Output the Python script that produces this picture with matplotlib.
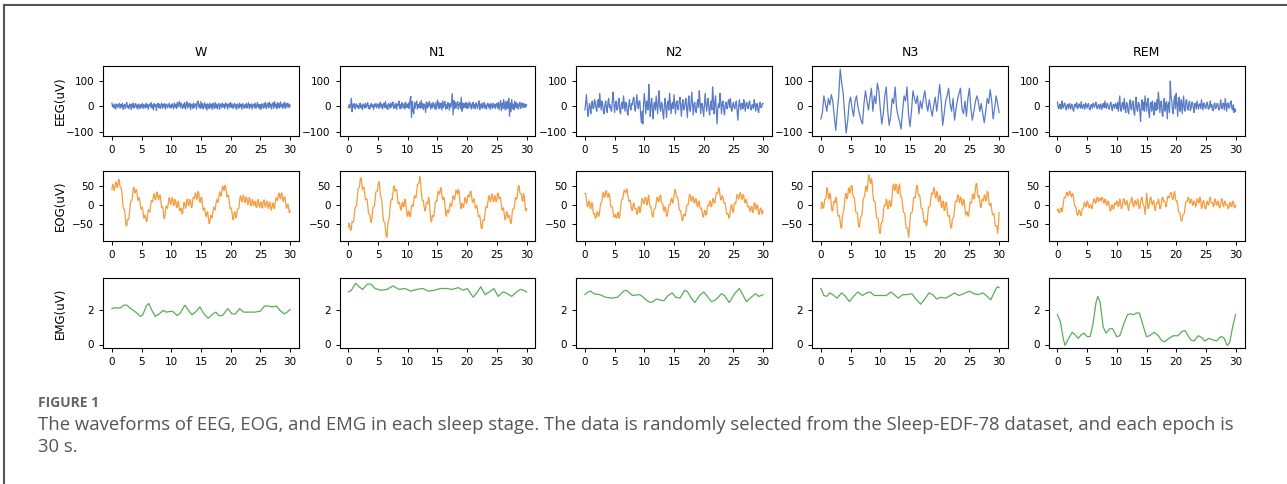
import numpy as np
import matplotlib.pyplot as plt
from matplotlib.lines import Line2D

stages = ['W', 'N1', 'N2', 'N3', 'REM']
channels = ['EEG(uV)', 'EOG(uV)', 'EMG(uV)']

# EEG, one value every 0.125 s (N3 every 0.25 s)
eeg_w = [12, -3, 5, -8, 9, -12, 4, 8, -6, 2, 11, -9, 6, -4, 10, -14, 3, 7, -10, 5, 14, -6, 2, -11, 8, 4, -13, 9, -5, 12, -8, 3, 10, -7, 5, -12, 8, 1, -9, 6,
         -4, 11, -10, 6, 3, -8, 12, -5, 7, -13, 4, 9, -3, 14, -8, 5, -15, 10, -2, 7, -18, 4, 11, -6, 8, -10, 3, 12, -9, 6, -4, 10, -12, 5, 8, -7, 2, 11, -6, 4,
         -8, 9, 2, -11, 13, -4, 7, -9, 15, -3, 10, 18, -6, 12, 2, -10, 8, -5, 14, -12, 6, 17, -8, 9, -3, 11, -14, 5, 8, -10, 12, -6, 4, 9, -12, 15, 20, -4, 8, -9,
         18, -6, 10, -12, 4, 13, -8, 6, -16, 9, 2, -10, 12, -5, 7, -14, 11, 3, -9, 15, -6, 8, -11, 5, 10, -13, 4, 9, -7, 12, -4, 6, -10, 13, -2, 8, -12, 5, 10, -6,
         14, -5, 8, -10, 3, 11, -7, 6, -13, 9, 4, -8, 12, -3, 7, -12, 10, 2, -9, 6, -5, 11, -8, 4, 13, -10, 6, -4, 9, -12, 5, 8, -6, 12, -9, 3, 14, -5, 7, -11,
         6, -13, 9, 2, -8, 12, -5, 15, -10, 4, 11, -7, 16, -4, 9, -12, 6, 13, -9, 18, -3, 8, -11, 14, -6, 10, -8, 17, -2, 7, -10, 12, -5, 15, -9, 6, 11, -4, 9, -6, 5]
eeg_n1 = [-5, 6, -8, 3, 30, -22, 8, -4, 10, -12, 5, 9, -6, 2, -10, 8, 12, -7, 4, -14, 9, 3, -8, 11, -5, 6, 14, -9, 2, -12, 7, 10, -4, 5, -13, 8, -2, 11, -7, 4,
          9, -10, 6, 15, -5, 8, -12, 3, 12, -6, 18, -8, 4, -14, 10, 6, -9, 13, -4, 7, 16, -10, 5, -6, 12, -13, 8, 3, 20, -9, 6, -11, 14, 2, -7, 10, -12, 16, -5, 8,
          -6, 12, -10, 25, 38, -45, 18, -20, -30, 15, -8, 10, 20, -12, 6, -5, 14, -9, 22, -6, 10, -14, 8, 4, -25, 16, -8, 12, -4, 18, 6, -12, 10, -7, 15, 3, -10, 12, -14, 8,
          24, -8, 15, -10, 6, 12, -15, 20, -6, 9, 18, -12, 5, -9, 14, 8, -16, 10, -4, 12, 48, -35, 22, -10, 15, -8, 10, 18, -12, 6, 14, -10, 35, -20, 12, -8, 10, -6, 15, -9,
          12, -10, 8, 16, -6, 10, -12, 4, 15, -8, 6, -11, 13, 3, -9, 10, 20, -14, 8, -5, 12, -10, 6, 14, -8, 4, -12, 9, 11, -6, 7, -13, 10, 2, -9, 12, -4, 8, -10, 6,
          10, -8, 15, -14, 6, 22, -18, 12, -10, 25, 8, -15, 18, -12, 20, -8, 30, -40, 12, -22, 26, -10, 8, -14, 20, -6, 14, -8, 10, -12, 6, 15, -9, 4, 12, -7, 10, -5, 8, -4, 6]
eeg_n2 = [-15, 10, 45, 5, -40, -20, 10, -5, -30, 10, 20, -10, -5, 25, 15, -10, -20, 15, 25, -5, 50, 10, -15, 20, 10, -25, -30, 5, 20, -10, -25, 15, 30, -5, 5, -15, -20, 25, 55, 10,
          -25, 5, 20, -15, -10, 15, 30, -20, -30, 5, 15, -10, 40, 10, -20, 15, 10, -25, -35, 5, 25, -5, -15, 10, 5, 30, 35, -10, -20, 15, 45, 5, -10, 20, 20, -30, -65, -20, -70, 10,
          50, 15, -30, 10, 20, -15, 85, 30, -40, 5, 30, -20, -50, 10, 15, -15, 40, 5, -30, 20, 60, -5, -20, 15, 10, -30, -50, 5, 30, -10, -45, 10, 20, -15, 50, 15, -30, 5, 15, -10,
          45, 5, -30, 10, 20, -10, -15, 20, 35, -5, -40, 10, 25, -15, -10, 15, 30, -5, -45, 10, 40, -10, -20, 15, 55, 5, -35, 10, 15, -20, -25, 10, 25, -5, 60, 20, -30, 10, 10, -15,
          -40, 10, 50, 5, -20, 15, 30, -10, -35, 5, 20, -15, 75, 30, -30, 10, 40, -20, -70, -10, 10, -5, 50, 15, -30, 10, 20, -15, -35, 5, 15, -10, -10, 20, 25, -5, 30, -10, -20, 5,
          15, -5, -10, 10, 20, -15, -55, -10, 25, 5, -15, 10, 10, -10, 25, 5, -20, 10, 15, -5, -10, 15, 20, -10, -15, 5, 5, -10, 25, 10, -20, 5, 10, -15, -25, 5, 15, -5, -5, 10, 10]
eeg_n3 = [-50, -25, 40, 10, -20, 30, 5, 45, 20, -40, -95, -20, 40, 145, 90, 50, -30, -105, -60, 10,
          35, -10, -40, 20, 40, -5, -30, -55, -70, 10, 60, 20, -15, 30, 70, -20, 40, 10, 90, 60,
          -10, -70, -30, 40, 75, -20, -75, -40, 30, 10, 75, -10, -40, -60, -90, -20, 40, 20, 75, -30,
          -80, -20, 60, 30, 10, 40, -30, 20, -10, 30, 60, 10, -20, 25, -10, -40, 5, 35, -20, 30,
          85, 20, -75, -30, 20, 40, 70, 10, -20, 30, -55, -10, 25, 50, 70, -10, -30, 20, -40, 30,
          70, -10, -55, -20, 15, 40, 20, -20, 10, -30, -65, -20, 30, 10, 65, 20, -50, -10, 40, 10, -25]
eeg_rem = [15, -5, -10, 8, 5, -12, 20, 3, -8, 10, 12, -6, -15, 4, 6, -10, 10, 2, -12, 8, 4, -15, -20, 6, 8, -4, 14, -10, -6, 9, 3, -8, 18, -5, -10, 7, 5, -12, 12, 4,
           -8, 6, 10, -12, -15, 4, 6, -9, 12, 3, -5, 10, 15, -8, -10, 6, 4, -12, 8, 2, -14, 9, 10, -6, 20, -4, -8, 11, 5, -10, -12, 8, 15, -5, -18, 6, 6, -9, 10, 3,
           -10, 15, -20, 12, 40, -15, -20, 10, 15, -12, 30, -8, -25, 14, 10, -20, -30, 12, 25, -10, -15, 18, 20, -25, -35, 10, 35, -12, -20, 15, 10, -18, -60, 5, 25, -15, 15, -20, 40, 10,
           -20, 15, 30, -25, -45, 10, 15, -20, 20, -10, -35, 15, 10, -18, 25, -12, 55, 20, -25, 12, 20, -30, -40, 15, 30, -20, 10, 18, -50, 5, 15, -25, 98, 40, 20, -15, -30, 20, 40, -10,
           50, 10, -40, 15, 35, -20, 10, 25, -30, 5, 40, -15, -20, 20, 25, -10, -15, 12, 20, -18, -10, 15, 15, -8, -25, 10, 10, -12, 20, 5, -12, 8, 8, -10, 25, 6, -15, 12, 10, -8,
           -8, 12, 15, -10, -12, 6, 20, -5, 5, -15, -18, 8, 12, -10, -6, 10, 10, -12, -15, 6, 25, -8, -10, 12, 8, -15, 30, 5, -20, 10, 12, -8, -5, 15, 20, -10, -15, 5, -25, -10, -20]

# EOG, one value every 0.125 s
eog_w = [40, 54, 50, 38, 45, 60, 58, 46, 52, 67, 65, 46, 45, 41, 20, -4, -10, -13, -35, -54, -55, -38, -40, -36, -15, 7, 10, 11, 30, 46, 45, 31, 35, 40, 28, 12, 15, 19, 5, -11,
         -10, -6, -20, -35, -32, -27, -40, -44, -30, -13, -15, -19, -5, 11, 10, 8, 25, 29, 15, 13, 30, 34, 20, 13, 25, 26, 10, -7, -5, -11, -35, -36, -20, -3, -5, -9, 5, 19, 15, 1,
         5, 19, 15, -2, 0, 14, 10, -7, -5, 9, 5, -14, -15, -8, -20, -24, -10, 7, 5, -9, -5, 14, 15, -2, 0, 14, 10, -7, -5, 16, 20, 16, 30, 31, 15, 16, 35, 31, 10, 6,
         20, 19, 0, -14, -10, -8, -25, -31, -20, -18, -35, -49, -45, -28, -30, -34, -20, -6, -10, -14, 0, 14, 10, 6, 20, 34, 30, 23, 35, 49, 45, 38, 50, 51, 35, 21, 25, 26, 10, -9,
         -10, -8, -25, -39, -35, -18, -20, -34, -30, -11, -10, -9, 10, 24, 20, 8, 15, 26, 20, 6, 10, 21, 15, 1, 5, 19, 15, -2, 0, 14, 10, -2, 5, 9, -5, -7, 10, 14, 0, -7,
         5, 8, -8, -8, 10, 13, -2, -6, 8, 10, -5, -9, 5, 7, -10, -14, 0, 5, -8, -10, 5, 19, 15, 11, 25, 31, 20, 16, 30, 31, 15, 8, 20, 21, 5, -9, -5, 2, -10, -21, -15]
eog_n1 = [-60, -48, -55, -67, -62, -44, -45, -44, -25, -6, -5, -2, 20, 41, 45, 48, 70, 71, 55, 41, 45, 46, 30, 13, 15, 16, 0, -21, -25, -26, -45, -46, -30, -8, -5, -4, 15, 34, 35, 36,
          55, 61, 50, 26, 20, 11, -15, -39, -45, -46, -65, -84, -85, -53, -40, -34, -10, 11, 15, 13, 30, 49, 50, 36, 40, 39, 20, 3, 5, 7, -10, -14, 0, 7, -5, -4, 15, 11, -10, -29,
          -30, -16, -20, -31, -25, -3, 0, -4, 10, 24, 20, 18, 35, 54, 55, 56, 75, 66, 40, 16, 10, 11, -5, -16, -10, 7, 5, 3, 20, 9, -20, -41, -45, -28, -30, -31, -15, 7, 10, 8,
          25, 36, 30, 28, 45, 44, 25, 13, 20, 19, 0, -24, -30, -13, -15, -21, -10, 4, 0, -4, 10, 24, 20, 13, 25, 39, 35, 28, 40, 36, 15, -7, -10, 4, 0, -7, 5, 19, 15, 3,
          10, 26, 25, 21, 35, 36, 20, 6, 10, 16, 5, -9, -5, -1, -15, -31, -30, -28, -45, -62, -62, -42, -40, -41, -25, -6, -5, -7, 10, 24, 20, 8, 15, 29, 25, 8, 10, 24, 20, 8,
          15, 31, 30, 16, 20, 19, 0, -14, -10, -8, -25, -39, -35, -18, -20, -34, -30, -28, -45, -49, -35, -13, -10, -11, 5, 19, 15, 16, 35, 51, 50, 31, 30, 29, 10, 11, 30, 21, -5, -16, -10]
eog_n2 = [30, 29, 15, -2, -5, 9, 10, -7, -10, 5, 5, -17, -25, -23, -35, -34, -20, -18, -30, -29, -15, 2, 5, 10, 30, 32, 20, 20, 35, 37, 25, 20, 30, 27, 10, -5, -5, -5, -20, -32,
          -30, -25, -35, -34, -20, -20, -35, -29, -10, 9, 15, 15, 30, 39, 35, 31, 42, 40, 25, 10, 10, 12, 0, -14, -15, 2, 5, -9, -10, -10, -25, -22, -5, -5, -20, -14, 5, 17, 15, 3,
          5, 19, 20, 3, 0, 19, 25, 3, -5, -5, -20, -32, -30, -13, -10, -9, 5, 19, 20, 8, 10, 24, 25, 8, 5, 2, -15, -17, -5, -10, -30, -29, -15, 0, 0, 0, 15, 17, 5, 8,
          25, 39, 40, 23, 20, 19, 5, -12, -15, -15, -30, -42, -40, -25, -25, -29, -20, -3, 0, 0, 15, 27, 25, 10, 10, 22, 20, 5, 5, 17, 15, -2, -5, 9, 10, -7, -10, -8, -20, -32,
          -30, -15, -15, -27, -25, -5, 0, -2, 10, 9, -5, -2, 15, 17, 5, 5, 20, 32, 30, 30, 45, 42, 25, 13, 15, 24, 20, 5, 5, 5, -10, -24, -25, -23, -35, -32, -15, 0, 0, -17,
          -20, 0, 5, 3, 15, 27, 25, 15, 20, 32, 30, 15, 15, 27, 25, 8, 5, 14, 10, -5, -5, -3, -15, -17, -5, -5, -20, -14, 5, 5, -10, -12, 0, -5, -25, -24, -10, -8, -20, -24, -15]
eog_n3 = [-10, 7, 5, -9, -5, 14, 15, 21, 45, 41, 20, 16, 30, 24, 0, -16, -15, 7, 10, 6, 20, 14, -10, -29, -30, -28, -45, -61, -60, -31, -20, -14, 10, 29, 30, 16, 20, 41, 45, 31,
          35, 51, 50, 26, 20, 19, 0, -19, -20, -21, -40, -58, -58, -35, -30, -29, -10, 14, 20, 23, 45, 49, 35, 47, 78, 78, 60, 56, 70, 59, 30, 11, 10, 7, -15, -34, -35, -36, -55, -74,
          -75, -51, -45, -44, -25, -3, 0, -2, 15, 11, -10, -9, 10, 11, -5, 1, 25, 49, 55, 38, 40, 54, 50, 31, 30, 51, 55, 28, 20, 19, 0, -19, -20, -23, -45, -61, -60, -63, -85, -71,
          -40, -21, -20, -19, 0, 19, 20, 18, 35, 51, 50, 28, 25, 26, 10, -9, -10, -11, -30, -46, -45, -41, -55, -49, -25, -6, -5, -4, 15, 31, 30, 28, 45, 41, 20, 18, 35, 31, 10, 8,
          25, 19, -5, -7, 10, 7, -15, -14, 5, 7, -10, -29, -30, -28, -45, -61, -60, -38, -35, -31, -10, 9, 10, 8, 25, 26, 10, 6, 20, 19, 0, -2, 15, 11, -10, -26, -25, -18, -30, -29,
          -10, 7, 5, 6, 25, 29, 15, 18, 40, 56, 55, 28, 20, 24, 10, -7, -5, 14, 15, 11, 25, 26, 10, 13, 35, 34, 15, -2, 0, 4, -10, -26, -25, -23, -40, -56, -55, -56, -75, -56, -20]
eog_rem = [-15, -11, -20, -21, -10, -8, -18, -12, 5, 18, 20, 19, 30, 33, 25, 24, 35, 36, 25, 21, 30, 28, 15, -1, -5, -6, -20, -28, -25, -14, -15, -27, -28, -13, -10, -8, 5, 6, -5, -4,
           10, 8, -5, -8, 0, 1, -10, -8, 5, 16, 15, 4, 5, 18, 20, 9, 10, 18, 15, 11, 20, 18, 5, 4, 15, 13, 0, -1, 10, 8, -5, -16, -15, -1, 0, -11, -10, 4, 5, 1,
           10, 8, -5, -1, 15, 8, -10, -8, 5, 16, 15, 1, 0, 11, 10, -8, -15, 1, 5, 6, 20, 13, -5, -4, 10, 11, 0, 1, 15, 8, -10, -8, 5, 18, 20, 4, 0, -6, -25, -4,
           30, 16, -10, -8, 5, 18, 20, 4, 0, 11, 10, -8, -15, 1, 5, 4, 15, 8, -10, -8, 5, 18, 20, 9, 10, 8, -5, -1, 15, 23, 20, 19, 30, 33, 25, 14, 15, 31, 35, 16,
           10, 11, 0, -16, -20, -21, -35, -43, -40, -26, -25, -21, -5, 8, 10, 9, 20, 18, 5, 4, 15, 13, 0, -1, 10, 8, -5, -1, 15, 16, 5, 6, 20, 11, -10, -6, 10, 11, 0, -11,
           -10, 6, 10, -1, 0, 16, 20, 6, 5, 6, -5, -1, 15, 13, 0, -1, 10, 7, -8, -7, 5, 16, 15, -1, -5, 8, 10, -1, 0, 1, -10, -8, 5, 6, -5, -4, 10, 8, -5, -8, 0]

# EMG, (time s, value)
emg_w = [(0, 2.05), (0.5, 2.1), (1, 2.08), (1.5, 2.1), (2, 2.25), (2.5, 2.25), (3, 2.1), (4, 1.85),
         (4.8, 1.6), (5.2, 1.7), (5.8, 2.2), (6.2, 2.35), (6.8, 1.9), (7.3, 1.6), (8, 1.75), (8.6, 1.95),
         (9.2, 1.85), (10, 1.9), (10.4, 1.85), (11, 1.65), (11.5, 1.8), (12.3, 2.25), (13, 1.9), (13.5, 1.7),
         (14.2, 1.9), (14.8, 2.15), (15.5, 1.75), (16.2, 1.5), (17, 1.75), (17.5, 1.85), (18, 1.65), (18.6, 1.65),
         (19.5, 2.05), (20.2, 1.75), (20.8, 1.75), (21.5, 2.05), (22.2, 1.85), (23, 1.85), (24, 1.85), (25, 1.9),
         (25.7, 2.2), (26.3, 2.2), (27, 2.15), (27.7, 2.2), (28.3, 1.95), (29, 1.75), (29.5, 1.85), (30, 2.0)]
emg_n1 = [(0, 3.0), (0.5, 3.1), (1.2, 3.5), (1.8, 3.3), (2.4, 3.15), (3.2, 3.45), (3.8, 3.45), (4.5, 3.2),
          (5.5, 3.1), (6.5, 3.15), (7.5, 3.35), (8.5, 3.15), (9.5, 3.2), (10.5, 3.05), (11.5, 3.15), (12.5, 3.2),
          (13.5, 3.05), (14.5, 3.1), (15.5, 3.2), (16.5, 3.2), (17.5, 3.15), (18.5, 3.25), (19.3, 3.1), (20, 3.2),
          (21, 2.7), (21.7, 3.0), (22.3, 3.3), (23, 2.85), (23.7, 3.0), (24.5, 3.2), (25.2, 2.75), (26, 3.0),
          (26.5, 2.95), (27.5, 2.75), (28.3, 3.0), (29, 3.15), (29.5, 3.1), (30, 3.0)]
emg_n2 = [(0, 2.85), (0.5, 3.0), (1, 3.05), (1.5, 2.9), (2.5, 2.85), (3.5, 2.7), (4.5, 2.65), (5.5, 2.7),
          (6.5, 3.05), (7, 3.1), (7.5, 2.95), (8, 2.8), (9, 2.85), (9.5, 2.8), (10.3, 2.55), (11, 2.4),
          (11.5, 2.45), (12, 2.6), (12.5, 2.55), (13.3, 2.5), (14, 2.8), (14.7, 2.95), (15.3, 2.7), (16, 2.65),
          (16.8, 3.1), (17.3, 3.0), (18, 2.6), (18.5, 2.4), (19.3, 2.8), (20, 3.0), (20.5, 2.8), (21.3, 2.45),
          (22, 2.55), (23, 2.9), (23.5, 2.8), (24.3, 2.4), (25.2, 2.9), (26, 3.2), (26.5, 2.9), (27.2, 2.45),
          (28, 2.7), (28.7, 2.9), (29.3, 2.75), (30, 2.85)]
emg_n3 = [(0, 3.2), (0.5, 2.8), (1, 2.75), (1.5, 2.95), (2, 2.85), (2.7, 2.65), (3.5, 2.95), (4, 2.8),
          (4.8, 2.45), (5.5, 2.75), (6.2, 3.0), (7, 2.8), (7.7, 2.95), (8.3, 3.0), (9, 2.8), (10, 2.8),
          (11, 2.8), (11.8, 3.0), (12.5, 2.8), (13, 2.65), (13.8, 2.85), (14.5, 2.85), (15.3, 2.9), (16, 2.6),
          (16.8, 2.3), (17.5, 2.6), (18.2, 2.95), (18.8, 2.85), (19.5, 2.6), (20.2, 2.7), (21, 2.65), (21.8, 2.8),
          (22.5, 2.95), (23.2, 2.8), (24, 2.9), (25, 3.05), (25.8, 2.9), (26.5, 2.85), (27.3, 2.95), (28, 2.75),
          (28.6, 2.55), (29.2, 3.0), (29.7, 3.3), (30, 3.25)]
emg_rem = [(0, 1.7), (0.5, 1.3), (1, 0.3), (1.3, -0.05), (1.8, 0.3), (2.5, 0.7), (3, 0.55), (3.5, 0.35),
           (4, 0.55), (4.5, 0.65), (5, 0.45), (5.5, 0.45), (6, 1.2), (6.5, 2.4), (6.8, 2.75), (7.2, 2.4),
           (7.7, 1.0), (8.2, 0.65), (8.8, 0.9), (9.3, 0.9), (10, 0.45), (10.5, 0.5), (11.3, 1.3), (11.8, 1.7),
           (12.3, 1.75), (12.8, 1.7), (13.3, 1.8), (13.8, 1.8), (14.5, 1.0), (15, 0.45), (15.5, 0.5), (16.3, 0.7),
           (17, 0.5), (17.5, 0.25), (18, 0.15), (18.8, 0.35), (19.5, 0.5), (20.3, 0.5), (21, 0.75), (21.5, 0.8),
           (22, 0.5), (22.5, 0.25), (23, 0.2), (23.7, 0.5), (24.3, 0.4), (24.8, 0.2), (25.5, 0.35), (26.3, 0.25),
           (26.8, 0.2), (27.5, 0.45), (28, 0.4), (28.6, -0.05), (29, 0.1), (29.5, 1.0), (30, 1.7)]

eeg = [eeg_w, eeg_n1, eeg_n2, eeg_n3, eeg_rem]
eog = [eog_w, eog_n1, eog_n2, eog_n3, eog_rem]
emg = [emg_w, emg_n1, emg_n2, emg_n3, emg_rem]

colors = ['#5a7cc6', '#f59d3f', '#5aad5a']
ylims = [(-117, 157), (-95, 89), (-0.2, 3.8)]
yticks = [[-100, 0, 100], [-50, 0, 50], [0, 2]]

W, H = 1287, 484
fig = plt.figure(figsize=(W / 100, H / 100), dpi=100)

lefts = [103, 339.5, 576, 812, 1048.5]
tops = [66, 171, 278]
aw, ah = 196, 70

for r in range(3):
    for c in range(5):
        ax = fig.add_axes([lefts[c] / W, 1 - (tops[r] + ah) / H, aw / W, ah / H])
        if r == 0:
            y = eeg[c]
            x = np.linspace(0, 30, len(y))
        elif r == 1:
            y = eog[c]
            x = np.linspace(0, 30, len(y))
        else:
            x, y = np.array(emg[c]).T
        ax.plot(x, y, color=colors[r], lw=0.9)
        ax.set_xlim(-1.5, 31.5)
        ax.set_ylim(*ylims[r])
        ax.set_xticks([0, 5, 10, 15, 20, 25, 30])
        ax.set_yticks(yticks[r])
        ax.tick_params(labelsize=7.5, length=3, width=0.7)
        for s in ax.spines.values():
            s.set_linewidth(0.8)
        if r == 0:
            ax.set_title(stages[c], fontsize=9, pad=7)
        if c == 0:
            ax.set_ylabel(channels[r], fontsize=8.5)
            ax.yaxis.set_label_coords(-0.185, 0.5)

# outer frame (cut at right and bottom)
fig.add_artist(Line2D([4 / W, 1], [1 - 5 / H, 1 - 5 / H], color='#555555', lw=1.5))
fig.add_artist(Line2D([4 / W, 4 / W], [0, 1 - 5 / H], color='#555555', lw=1.5))

fig.text(38 / W, 1 - 403 / H, 'FIGURE 1', fontsize=10, fontweight='bold', color='#666666',
         family='Open Sans', va='center')
fig.text(38 / W, 1 - 425 / H,
         'The waveforms of EEG, EOG, and EMG in each sleep stage. The data is randomly selected '
         'from the Sleep-EDF-78 dataset, and each epoch is',
         fontsize=13.3, color='#555555', family='Open Sans', va='center')
fig.text(38 / W, 1 - 447 / H, '30 s.', fontsize=13.3, color='#555555', family='Open Sans', va='center')

fig.savefig('out.png', dpi=100)
